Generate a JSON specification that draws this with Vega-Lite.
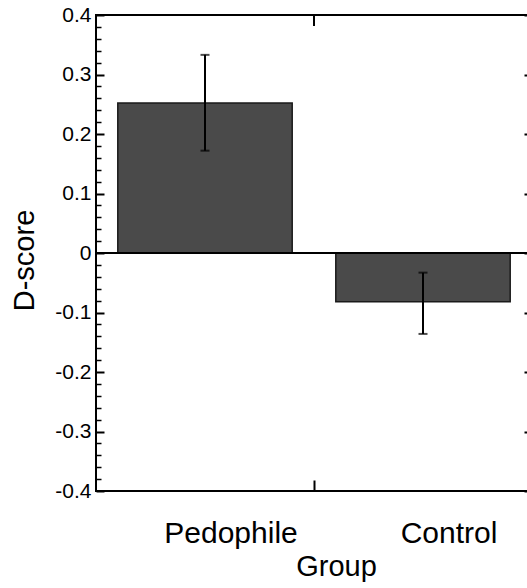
{
  "$schema": "https://vega.github.io/schema/vega-lite/v6.json",
  "width": 436,
  "height": 476,
  "autosize": {"type": "none"},
  "padding": {"left": 96, "top": 15, "right": 0, "bottom": 97},
  "config": {
    "font": "Liberation Sans",
    "view": {"stroke": "black", "strokeWidth": 2},
    "axis": {"tickColor": "black", "labelColor": "black", "titleColor": "black", "domain": false, "grid": false}
  },
  "data": {
    "values": [
      {"Group": "Pedophile", "mean": 0.252, "lo": 0.172, "hi": 0.333},
      {"Group": "Control", "mean": -0.082, "lo": -0.136, "hi": -0.033}
    ]
  },
  "resolve": {"axis": {"x": "independent", "y": "independent"}},
  "layer": [
    {
      "mark": {"type": "bar", "fill": "#4a4a4a", "stroke": "#1a1a1a", "strokeWidth": 1.5},
      "encoding": {
        "x": {
          "field": "Group", "type": "nominal", "sort": ["Pedophile", "Control"],
          "scale": {"paddingInner": 0.2, "paddingOuter": 0.1},
          "axis": {
            "orient": "bottom", "title": "Group", "labelAngle": 0,
            "labelFontSize": 30, "titleFontSize": 29, "titleFontWeight": "normal",
            "ticks": false, "labelOffset": 26,
            "labelPadding": 27, "titlePadding": 4, "titleX": 240
          }
        },
        "y": {
          "field": "mean", "type": "quantitative",
          "scale": {"domain": [-0.4, 0.4], "nice": false, "zero": false},
          "axis": {
            "orient": "left", "title": "D-score",
            "values": [-0.4, -0.3, -0.2, -0.1, 0, 0.1, 0.2, 0.3, 0.4],
            "format": ".1~f",
            "labelExpr": "replace(datum.label, '\u2212', '-')",
            "labelFontSize": 21, "titleFontSize": 29, "titleFontWeight": "normal",
            "tickSize": -8, "tickWidth": 2, "labelPadding": 13, "titlePadding": 15, "titleY": 245
          }
        }
      }
    },
    {
      "mark": {"type": "rule", "color": "black", "strokeWidth": 2},
      "encoding": {
        "x": {"field": "Group", "type": "nominal", "sort": ["Pedophile", "Control"], "axis": null},
        "y": {
          "field": "lo", "type": "quantitative",
          "axis": {
            "orient": "left", "title": null, "labels": false,
            "values": [-0.38, -0.36, -0.34, -0.32, -0.28, -0.26, -0.24, -0.22, -0.18, -0.16, -0.14, -0.12, -0.08, -0.06, -0.04, -0.02, 0.02, 0.04, 0.06, 0.08, 0.12, 0.14, 0.16, 0.18, 0.22, 0.24, 0.26, 0.28, 0.32, 0.34, 0.36, 0.38],
            "tickSize": -5, "tickWidth": 1.5
          }
        },
        "y2": {"field": "hi"}
      }
    },
    {
      "mark": {"type": "tick", "color": "black", "size": 9, "thickness": 2},
      "encoding": {
        "x": {
          "field": "Group", "type": "nominal", "sort": ["Pedophile", "Control"],
          "axis": {"orient": "bottom", "title": null, "labels": false, "tickOffset": 109, "tickSize": -11, "tickWidth": 2}
        },
        "y": {
          "field": "lo", "type": "quantitative",
          "axis": {
            "orient": "right", "title": null, "labels": false,
            "values": [-0.4, -0.3, -0.2, -0.1, 0, 0.1, 0.2, 0.3, 0.4],
            "tickSize": -8, "tickWidth": 2
          }
        }
      }
    },
    {
      "mark": {"type": "tick", "color": "black", "size": 9, "thickness": 2},
      "encoding": {
        "x": {"field": "Group", "type": "nominal", "sort": ["Pedophile", "Control"], "axis": null},
        "y": {
          "field": "hi", "type": "quantitative",
          "axis": {
            "orient": "right", "title": null, "labels": false,
            "values": [-0.38, -0.36, -0.34, -0.32, -0.28, -0.26, -0.24, -0.22, -0.18, -0.16, -0.14, -0.12, -0.08, -0.06, -0.04, -0.02, 0.02, 0.04, 0.06, 0.08, 0.12, 0.14, 0.16, 0.18, 0.22, 0.24, 0.26, 0.28, 0.32, 0.34, 0.36, 0.38],
            "tickSize": -5, "tickWidth": 1.5
          }
        }
      }
    },
    {
      "mark": {"type": "rule", "color": "black", "strokeWidth": 2},
      "encoding": {
        "x": {"field": "Group", "type": "nominal", "sort": ["Pedophile", "Control"], "bandPosition": 1.125, "axis": null},
        "y": {"datum": 0.4, "type": "quantitative", "axis": null},
        "y2": {"datum": 0.3815}
      }
    },
    {
      "mark": {"type": "rule", "color": "black", "strokeWidth": 2},
      "encoding": {
        "y": {"datum": 0, "type": "quantitative", "axis": null}
      }
    }
  ]
}
